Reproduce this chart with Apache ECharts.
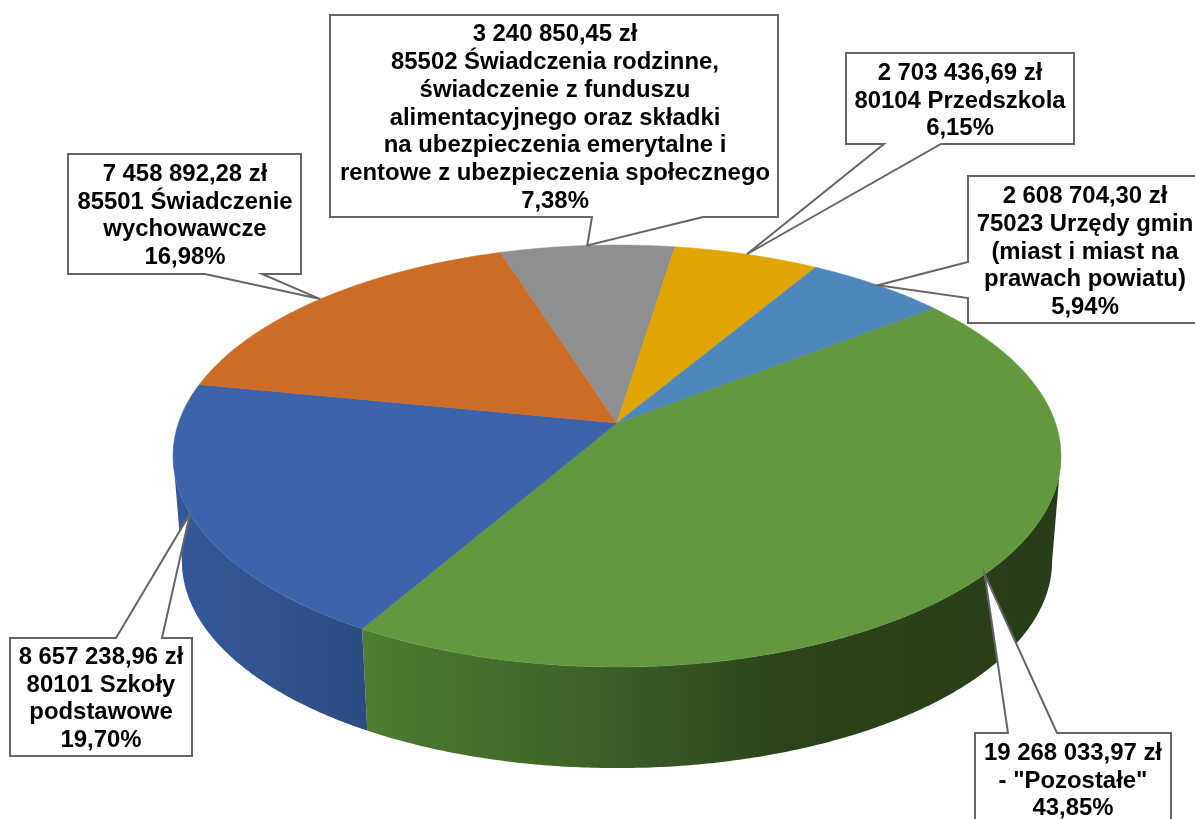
<!DOCTYPE html>
<html>
<head>
<meta charset="utf-8">
<style>
  html, body { margin: 0; padding: 0; background: #fff; overflow: hidden; }
  #chart { width: 1195px; height: 819px; }
</style>
<script src="https://cdn.jsdelivr.net/npm/echarts@6/dist/echarts.min.js"></script>
</head>
<body>
<div id="chart"></div>
<script>
// chart data, in clockwise order from the green slice
const amounts = [19268033.97, 8657238.96, 7458892.28, 3240850.45, 2703436.69, 2608704.30];
const amountLabels = ['19 268 033,97 zł', '8 657 238,96 zł', '7 458 892,28 zł', '3 240 850,45 zł', '2 703 436,69 zł', '2 608 704,30 zł'];
const percentLabels = ['43,85%', '19,70%', '16,98%', '7,38%', '6,15%', '5,94%'];
const categoryLines = [
  ['- "Pozostałe"'],
  ['80101 Szkoły', 'podstawowe'],
  ['85501 Świadczenie', 'wychowawcze'],
  ['85502 Świadczenia rodzinne,', 'świadczenie z funduszu', 'alimentacyjnego oraz składki', 'na ubezpieczenia emerytalne i', 'rentowe z ubezpieczenia społecznego'],
  ['80104 Przedszkola'],
  ['75023 Urzędy gmin', '(miast i miast na', 'prawach powiatu)']
];

// styles
const topColors = ['#62993e', '#3c64ab', '#cd6c27', '#8f8f8f', '#e1a500', '#4e87bc'];
const wallStops = [
  [[0, '#4f7d31'], [0.35, '#3c5f26'], [0.6, '#2b441b'], [1, '#273d18']],
  [[0, '#33589a'], [0.5, '#31538e'], [1, '#2c4b81']]
];

// perspective of the pie: apex, axes and foreshortening
const cx = 617, cy = 423, rx = 438.5, ry = 205.8, persp = 0.1564;
const depthY = 106, depthScale = 0.98;
const startDeg = -37.7;
const rad = Math.PI / 180;

// callout boxes: x0,y0,x1,y1, edge + base of the leader on that edge, text centre
const callouts = [
  { box: [975, 733, 1171, 835], edge: 'top', base: [1008, 1057], tx: 1073, ty: 781 },
  { box: [10, 638, 192, 756], edge: 'top', base: [116, 162], tx: 101, ty: 699 },
  { box: [68, 154, 301, 274], edge: 'bottom', base: [205, 262], tx: 185, ty: 216 },
  { box: [330, 15, 778, 217], edge: 'bottom', base: [592, 703], tx: 555, ty: 118 },
  { box: [846, 53, 1074, 144], edge: 'bottom', base: [884, 941], tx: 960, ty: 101 },
  { box: [968, 176, 1200, 323], edge: 'left', base: [262, 298], tx: 1085, ty: 252 }
];

const total = amounts.reduce((a, b) => a + b, 0);
const sliceAngles = [];
let acc = startDeg;
amounts.forEach(v => {
  const sweep = v / total * 360;
  sliceAngles.push([acc, acc + sweep]);
  acc += sweep;
});

function rimPoint(deg, lower) {
  const u = Math.cos(deg * rad), v = Math.sin(deg * rad);
  const w = 1 - persp * v;
  const s = lower ? depthScale : 1;
  return [cx + s * rx * u / w, cy + (lower ? depthY : 0) + s * ry * v / w];
}

function arcPoints(from, to, lower) {
  const pts = [];
  const n = Math.max(2, Math.ceil(Math.abs(to - from) * 2));
  for (let i = 0; i <= n; i++) pts.push(rimPoint(from + (to - from) * i / n, lower));
  return pts;
}

function renderTop(params) {
  const [a0, a1] = sliceAngles[params.dataIndex];
  const color = topColors[params.dataIndex];
  return {
    type: 'polygon',
    shape: { points: [[cx, cy]].concat(arcPoints(a0, a1, false)) },
    style: { fill: color, stroke: color, lineWidth: 0.5 }
  };
}

function renderWall(params) {
  // only the front of the rim is visible, between the two silhouette tangents
  const tangent = Math.asin(persp) / rad;
  const [a0, a1] = sliceAngles[params.dataIndex];
  const from = Math.max(a0, tangent), to = Math.min(a1, 180 - tangent);
  if (to <= from) return null;
  const stops = wallStops[params.dataIndex].map(s => ({ offset: s[0], color: s[1] }));
  return {
    type: 'polygon',
    shape: { points: arcPoints(from, to, false).concat(arcPoints(to, from, true)) },
    style: { fill: new echarts.graphic.LinearGradient(0, 0, 1, 0, stops) }
  };
}

function renderCallout(params) {
  const i = params.dataIndex;
  const c = callouts[i];
  const [x0, y0, x1, y1] = c.box;
  const [a0, a1] = sliceAngles[i];
  const tip = rimPoint((a0 + a1) / 2, false);
  let points;
  if (c.edge === 'top') {
    points = [[x0, y0], [c.base[0], y0], tip, [c.base[1], y0], [x1, y0], [x1, y1], [x0, y1]];
  } else if (c.edge === 'bottom') {
    points = [[x0, y0], [x1, y0], [x1, y1], [c.base[1], y1], tip, [c.base[0], y1], [x0, y1]];
  } else {
    points = [[x0, y0], [x1, y0], [x1, y1], [x0, y1], [x0, c.base[1]], tip, [x0, c.base[0]]];
  }
  const text = [amountLabels[i]].concat(categoryLines[i], percentLabels[i]).join('\n');
  return {
    type: 'group',
    children: [
      {
        type: 'polygon',
        shape: { points: points },
        style: { fill: '#fff', stroke: '#666', lineWidth: 2, lineJoin: 'miter' }
      },
      {
        type: 'text',
        style: {
          text: text,
          x: c.tx,
          y: c.ty,
          align: 'center',
          verticalAlign: 'middle',
          fontFamily: '"Liberation Sans", Arial, sans-serif',
          fontWeight: 'bold',
          fontSize: 23.9,
          lineHeight: 27.7,
          fill: '#000'
        }
      }
    ]
  };
}

const chart = echarts.init(document.getElementById('chart'), null, { renderer: 'canvas' });
chart.setOption({
  animation: false,
  backgroundColor: '#fff',
  tooltip: { show: false },
  series: [
    { type: 'custom', coordinateSystem: 'none', silent: true, z: 1, data: amounts, renderItem: renderWall },
    { type: 'custom', coordinateSystem: 'none', silent: true, z: 2, data: amounts, renderItem: renderTop },
    { type: 'custom', coordinateSystem: 'none', silent: true, z: 3, data: amounts, renderItem: renderCallout }
  ]
});
</script>
</body>
</html>
